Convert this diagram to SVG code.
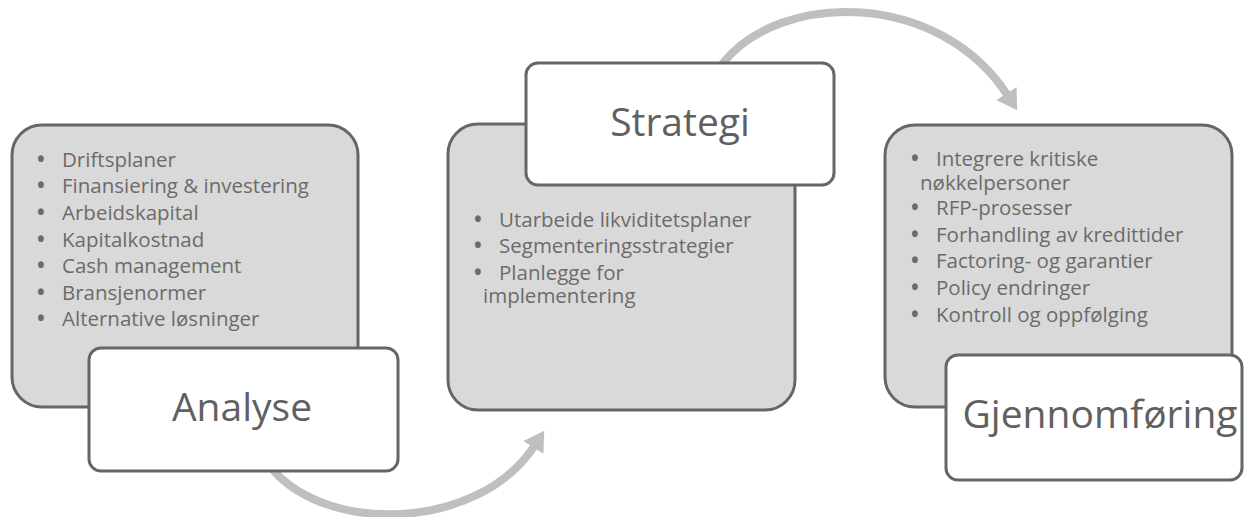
<svg xmlns="http://www.w3.org/2000/svg" width="1245" height="517" viewBox="0 0 1245 517">
<style>
.panel{fill:#d9d9d9;stroke:#666;stroke-width:3}
.title{fill:#fff;stroke:#666;stroke-width:3}
.b{font-family:"Open Sans","Noto Sans",sans-serif;font-size:20.5px;fill:#6b6b6b}
.d{font-weight:bold}
.t{font-family:"Open Sans","Noto Sans",sans-serif;font-size:39px;fill:#606060;text-anchor:middle}
.arc{fill:none;stroke:#bfbfbf;stroke-width:8}
</style>
<defs>
<marker id="ah" markerUnits="userSpaceOnUse" markerWidth="26" markerHeight="26" refX="3" refY="12" orient="auto" viewBox="0 0 26 26">
<path d="M0,0 L20,12 L0,24 z" fill="#bfbfbf"/>
</marker>
</defs>
<g id="connectors">
<path class="arc" d="M273 470 C330 535 480 530 535 445" marker-end="url(#ah)"/>
<path class="arc" d="M722 64 C780 -10 940 -10 1008 96" marker-end="url(#ah)"/>
</g>
<g id="analyse">
<rect class="panel" x="12" y="125" width="346" height="282" rx="30"/>
<text class="b"><tspan class="d" x="37" y="166.5">•</tspan><tspan x="62">Driftsplaner</tspan></text>
<text class="b"><tspan class="d" x="37" y="193">•</tspan><tspan x="62">Finansiering &amp; investering</tspan></text>
<text class="b"><tspan class="d" x="37" y="220">•</tspan><tspan x="62">Arbeidskapital</tspan></text>
<text class="b"><tspan class="d" x="37" y="246.5">•</tspan><tspan x="62">Kapitalkostnad</tspan></text>
<text class="b"><tspan class="d" x="37" y="273">•</tspan><tspan x="62">Cash management</tspan></text>
<text class="b"><tspan class="d" x="37" y="299.5">•</tspan><tspan x="62">Bransjenormer</tspan></text>
<text class="b"><tspan class="d" x="37" y="326">•</tspan><tspan x="62">Alternative løsninger</tspan></text>
<rect class="title" x="89" y="348" width="309" height="123" rx="12"/>
<text class="t" x="242" y="421">Analyse</text>
</g>
<g id="strategi">
<rect class="panel" x="448" y="124" width="347" height="286" rx="30"/>
<text class="b"><tspan class="d" x="474" y="226.5">•</tspan><tspan x="499">Utarbeide likviditetsplaner</tspan></text>
<text class="b"><tspan class="d" x="474" y="253">•</tspan><tspan x="499">Segmenteringsstrategier</tspan></text>
<text class="b"><tspan class="d" x="474" y="280">•</tspan><tspan x="499">Planlegge for</tspan></text>
<text class="b" x="483" y="303">implementering</text>
<rect class="title" x="526" y="63" width="308" height="122" rx="12"/>
<text class="t" x="680" y="136">Strategi</text>
</g>
<g id="gjennomforing">
<rect class="panel" x="885" y="125" width="347" height="282" rx="30"/>
<text class="b"><tspan class="d" x="911" y="166">•</tspan><tspan x="936">Integrere kritiske</tspan></text>
<text class="b" x="920" y="189.5">nøkkelpersoner</text>
<text class="b"><tspan class="d" x="911" y="215">•</tspan><tspan x="936">RFP-prosesser</tspan></text>
<text class="b"><tspan class="d" x="911" y="241.5">•</tspan><tspan x="936">Forhandling av kredittider</tspan></text>
<text class="b"><tspan class="d" x="911" y="268">•</tspan><tspan x="936">Factoring- og garantier</tspan></text>
<text class="b"><tspan class="d" x="911" y="295">•</tspan><tspan x="936">Policy endringer</tspan></text>
<text class="b"><tspan class="d" x="911" y="321.5">•</tspan><tspan x="936">Kontroll og oppfølging</tspan></text>
<rect class="title" x="946" y="355" width="296" height="125" rx="12"/>
<text class="t" x="1100" y="428">Gjennomføring</text>
</g>
</svg>
